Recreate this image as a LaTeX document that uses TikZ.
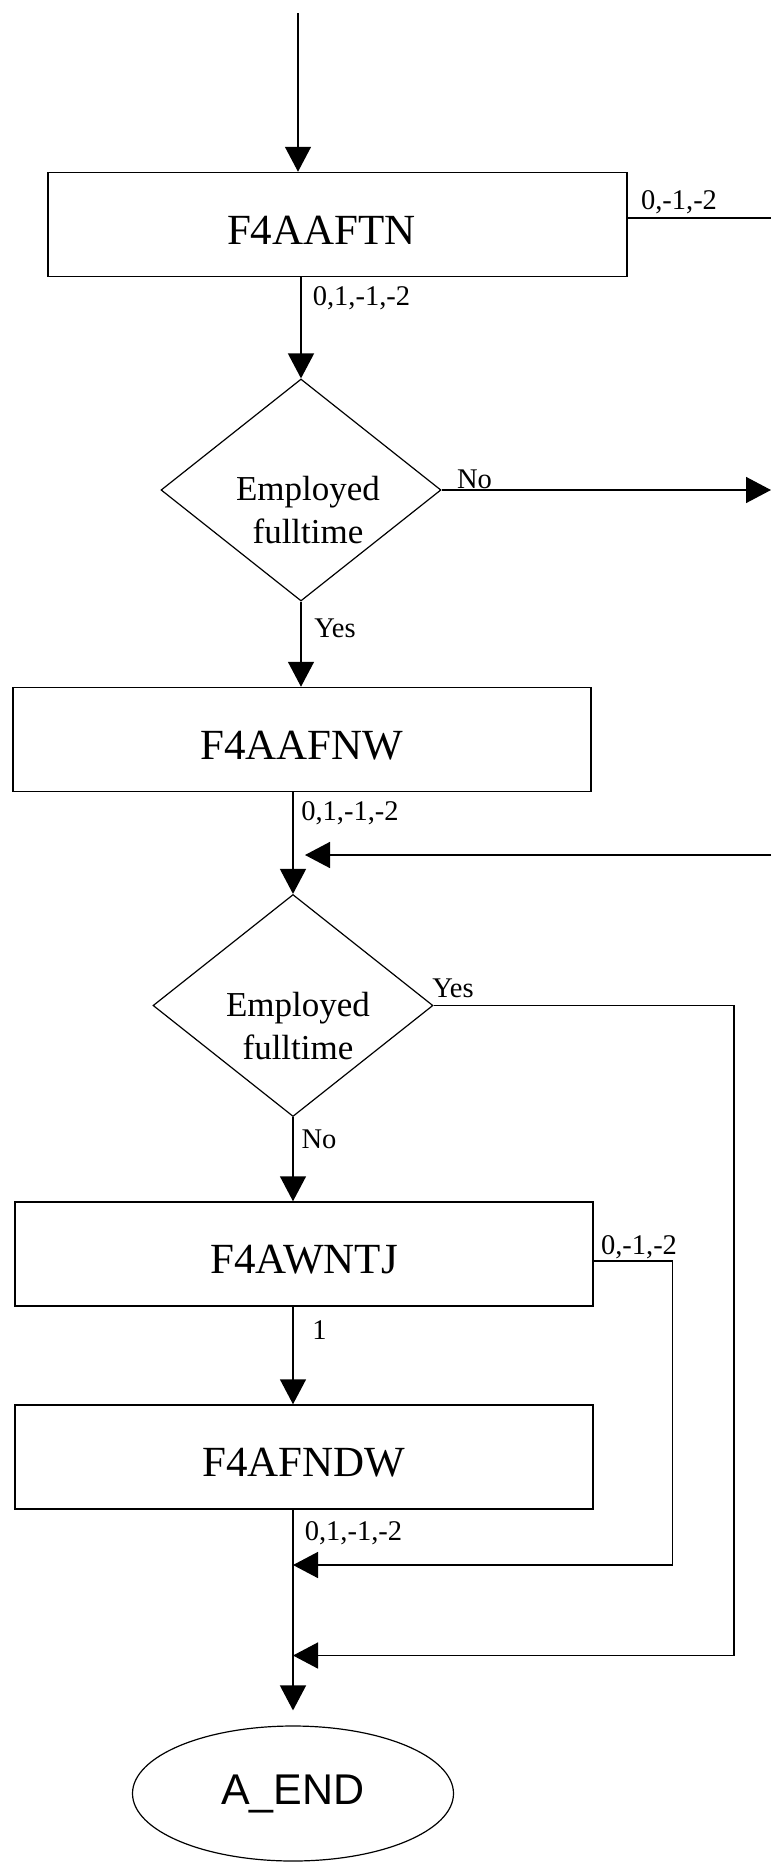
\documentclass[tikz,border=0pt]{standalone}
\usepackage{fontspec}
\setmainfont{Liberation Serif}
\newfontfamily\endfont{Liberation Sans}
\usetikzlibrary{shapes.geometric}
\usetikzlibrary{arrows.meta}

\begin{document}
\begin{tikzpicture}[x=1pt,y=-1pt,
  box/.style={draw, line width=1.5pt, minimum width=578pt, minimum height=104pt, inner sep=0pt, text height=39pt, text depth=0pt, font=\fontsize{43}{45}\selectfont},
  decision/.style={draw, diamond, line width=1.2pt, minimum width=280pt, minimum height=222pt, inner sep=0pt},
  dtext/.style={align=center, inner sep=0pt, font=\fontsize{35}{43}\selectfont},
  lbl/.style={inner sep=0pt, font=\fontsize{28.5}{30}\selectfont},
  arr/.style={line width=1.5pt, -{Triangle[length=25pt,width=26pt]}},
  line/.style={line width=1.5pt}]

\useasboundingbox (0,0) rectangle (771,1863);

% steps
\node[box, minimum width=579pt] (ftn) at (337.4,224.5) {\hspace*{-32pt}F4AAFTN};
\node[decision] (emp1) at (301,490) {};
\node[dtext] (emp1txt) at (308,510) {Employed\\fulltime};
\node[box] (fnw) at (302,739.5) {F4AAFNW};
\node[decision] (emp2) at (293,1005.5) {};
\node[dtext] (emp2txt) at (298,1026) {Employed\\fulltime};
\node[box] (wntj) at (304,1254) {F4AWNTJ};
\node[box] (fndw) at (304,1457) {F4AFNDW};
\node[ellipse, draw, line width=1.2pt, minimum width=321pt, minimum height=135pt, inner sep=0pt, font=\endfont\fontsize{43}{45}\selectfont] (aend) at (293,1793.5) {A\_END};

% free ends and bends
\coordinate (in) at (298,13);
\coordinate (out1) at (771,218);
\coordinate (out2) at (771,490);
\coordinate (back1) at (771,855);
\coordinate (spine1) at (305,855);
\coordinate (yesd) at (734,1655.5);
\coordinate (wc) at (672.6,1261);
\coordinate (wd) at (672.6,1565);

% connectors
\draw[arr] (in) -- (in |- ftn.north);
\draw[line] (out1 -| ftn.east) -- (out1);
\draw[arr] (ftn.south -| emp1) -- (emp1.north);
\draw[arr] (emp1.east) -- (out2);
\draw[arr] (emp1.south) -- (emp1.south |- fnw.north);
\draw[arr] (fnw.south -| emp2) -- (emp2.north);
\draw[arr] (back1) -- (spine1);
\draw[arr] (emp2.east) -| (yesd) -- (yesd -| emp2);
\draw[arr] (emp2.south) -- (emp2.south |- wntj.north);
\draw[arr] (wntj.south -| emp2) -- (fndw.north -| emp2);
\draw[arr] (wc -| wntj.east) -| (wd) -- (wd -| emp2);
\draw[arr] (fndw.south -| emp2) -- ([yshift=15pt]aend.north);

% labels
\node[lbl] (l1) at (679,202) {0,-1,-2};
\node[lbl] (l2) at (361.5,298) {0,1,-1,-2};
\node[lbl] (no1) at (474.5,479) {No};
\node[lbl] (yes1) at (335,628) {Yes};
\node[lbl] (l3) at (350,813) {0,1,-1,-2};
\node[lbl] (yes2) at (453,988) {Yes};
\node[lbl] (no2) at (319,1139) {No};
\node[lbl] (l4) at (639,1247) {0,-1,-2};
\node[lbl] (one) at (319.5,1330) {1};
\node[lbl] (l5) at (353.5,1533) {0,1,-1,-2};

\end{tikzpicture}
\end{document}
